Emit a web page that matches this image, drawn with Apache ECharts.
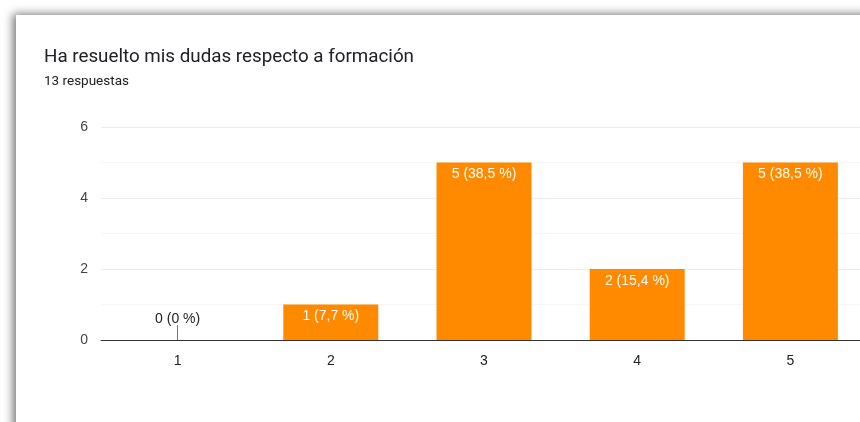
<!DOCTYPE html>
<html><head><meta charset="utf-8">
<script src="https://cdn.jsdelivr.net/npm/echarts@6/dist/echarts.min.js"></script>
<style>
html,body{margin:0;padding:0;background:#fff;width:860px;height:422px;overflow:hidden;position:relative;}
#card{position:absolute;left:16px;top:15px;width:900px;height:460px;background:#fff;box-shadow:-3px -1px 9px rgba(0,0,0,0.55);}
#c{position:absolute;left:0;top:0;width:900px;height:422px;}
</style></head>
<body><div id="card"></div><div id="c"></div>
<script>
const titleText = 'Ha resuelto mis dudas respecto a formación';
const subtitleText = '13 respuestas';
const categories = ['1','2','3','4','5'];
const counts = [0, 1, 5, 2, 5];
const yTicks = [0, 2, 4, 6];

const total = counts.reduce((a,b)=>a+b,0);
function pct(v){ const p = Math.round(v/total*1000)/10; return String(p).replace('.', ','); }
const chartFont = '"Liberation Sans", Arial, sans-serif';

const chart = echarts.init(document.getElementById('c'), null, {renderer:'canvas'});
chart.setOption({
  backgroundColor:'transparent',
  animation:false,
  title:[
    {text:titleText,left:39,top:43,textStyle:{fontSize:18.8,fontWeight:'normal',color:'#202124',fontFamily:'Roboto'}},
    {text:subtitleText,left:39,top:70,textStyle:{fontSize:13.5,fontWeight:'normal',color:'#202124',fontFamily:'Roboto'}}
  ],
  grid:{left:101,width:766,top:127,bottom:82,containLabel:false,outerBoundsMode:'none'},
  xAxis:{type:'category',data:categories,
    axisLine:{lineStyle:{color:'#333',width:1}},
    axisTick:{show:false},
    axisLabel:{color:'#222',fontSize:14,margin:14,fontFamily:chartFont}},
  yAxis:{type:'value',min:yTicks[0],max:yTicks[yTicks.length-1],interval:2,
    axisLine:{show:false},axisTick:{show:false},
    axisLabel:{color:'#444',fontSize:14,margin:13,fontFamily:chartFont},
    splitLine:{lineStyle:{color:'#ebebeb'}},
    minorTick:{show:false,splitNumber:2},
    minorSplitLine:{show:true,lineStyle:{color:'#f5f5f5'}}},
  series:[{
    type:'bar',barWidth:'62%',
    itemStyle:{color:'#ff8a00'},
    data:counts.map(v=>({value:v,label: v===0 ? {position:'top',distance:14,color:'#222'} : {}})),
    label:{show:true,position:'insideTop',distance:5,color:'#fff',fontSize:14,fontFamily:chartFont,
      formatter:p=>p.value+' ('+pct(p.value)+' %)'},
    markLine:{silent:true,symbol:'none',label:{show:false},lineStyle:{color:'#777',width:1,type:'solid'},
      data: counts.map((v,i)=>v===0?[{coord:[categories[i],0]},{coord:[categories[i],0.42]}]:null).filter(Boolean)}
  }]
});
</script></body></html>
